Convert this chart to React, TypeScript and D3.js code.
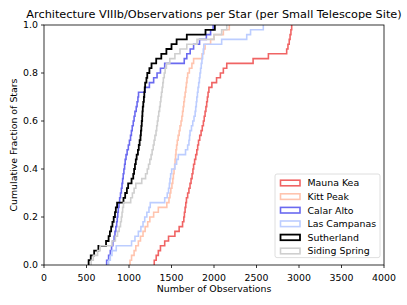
import React from 'react';
import * as d3 from 'd3';

// 관측 횟수 (별마다, 정렬됨) — 사이트별
const maunaKea = [
  1297, 1320, 1345, 1370, 1420, 1465, 1540, 1590, 1630, 1645, 1652, 1660, 1668, 1676, 1690, 1705, 1718,
  1730, 1742, 1752, 1760, 1772, 1785, 1798, 1808, 1818, 1832, 1848, 1862, 1875, 1885, 1895, 1905, 1914,
  1922, 1930, 1940, 1975, 2030, 2075, 2110, 2150, 2460, 2640, 2855, 2870, 2885, 2895, 2905, 2914,
];
const kittPeak = [
  1012, 1030, 1060, 1080, 1110, 1135, 1165, 1190, 1220, 1245, 1290, 1345, 1445, 1470, 1482, 1492, 1505,
  1515, 1522, 1530, 1537, 1542, 1548, 1553, 1560, 1568, 1578, 1590, 1600, 1612, 1622, 1630, 1638, 1645,
  1652, 1660, 1668, 1675, 1682, 1690, 1710, 1740, 1760, 1860, 1880, 1895, 1960, 2000, 2110, 2180,
];
const calarAlto = [
  737, 760, 780, 795, 810, 825, 835, 845, 855, 862, 868, 874, 882, 890, 900, 910, 918, 925, 932, 940, 948,
  955, 965, 978, 992, 1005, 1018, 1028, 1038, 1050, 1060, 1070, 1085, 1095, 1105, 1112, 1190, 1240, 1290,
  1330, 1370, 1420, 1650, 1680, 1720, 1760, 1830, 1910, 1960, 1990,
];
const lasCampanas = [
  760, 780, 800, 850, 1030, 1070, 1110, 1140, 1165, 1185, 1210, 1235, 1250, 1420, 1450, 1465, 1475, 1482,
  1490, 1502, 1540, 1560, 1580, 1665, 1690, 1705, 1712, 1718, 1735, 1750, 1765, 1778, 1785, 1792, 1798,
  1805, 1812, 1820, 1828, 1835, 1842, 1850, 1858, 1866, 1874, 1880, 2090, 2385, 2430, 2580,
];
const sutherland = [
  525, 550, 590, 640, 730, 760, 775, 790, 805, 820, 835, 845, 860, 935, 955, 975, 990, 1030, 1050, 1060,
  1070, 1080, 1090, 1105, 1115, 1125, 1135, 1140, 1145, 1150, 1155, 1158, 1162, 1168, 1175, 1180, 1185,
  1190, 1205, 1215, 1240, 1265, 1320, 1380, 1440, 1500, 1560, 1680, 1900, 2010,
];
const sidingSpring = [
  555, 580, 630, 660, 800, 840, 865, 885, 900, 910, 918, 925, 935, 1020, 1040, 1060, 1080, 1150, 1195,
  1215, 1230, 1245, 1260, 1272, 1285, 1295, 1305, 1318, 1326, 1334, 1342, 1350, 1360, 1368, 1375, 1382,
  1390, 1398, 1404, 1415, 1425, 1440, 1480, 1540, 1600, 1680, 1800, 2000, 2090, 2150,
];

const siteNames = ['Mauna Kea', 'Kitt Peak', 'Calar Alto', 'Las Campanas', 'Sutherland', 'Siding Spring'];
const siteData = [maunaKea, kittPeak, calarAlto, lasCampanas, sutherland, sidingSpring];
const siteColors = ['#f06464', '#ffc4ae', '#6a6af0', '#bccdff', '#000000', '#cfcfcf'];

const xTicks = [0, 500, 1000, 1500, 2000, 2500, 3000, 3500, 4000];
const yTicks = [0, 0.2, 0.4, 0.6, 0.8, 1.0];

const FONT = 'DejaVu Sans, sans-serif';
const SMALL = 9.4;

export default function App() {
  const width = 407;
  const height = 305;
  const left = 44;
  const right = 384;
  const top = 25;
  const bottom = 265;

  const x = d3.scaleLinear().domain([0, 4000]).range([left, right]);
  const y = d3.scaleLinear().domain([0, 1]).range([bottom, top]);

  // 누적 분포 계단선
  const line = d3
    .line<[number, number]>()
    .x((d) => x(d[0]))
    .y((d) => y(d[1]))
    .curve(d3.curveStepAfter);

  const paths = siteData.map((vals) => {
    const sorted = [...vals].sort((a, b) => a - b);
    const n = sorted.length;
    const pts: [number, number][] = [[sorted[0], 0]];
    sorted.forEach((v, i) => pts.push([v, (i + 1) / n]));
    return line(pts) as string;
  });

  // 범례 위치
  const legX = 275;
  const legY = 174;
  const legW = 105;
  const legRow = 13.6;

  return (
    <svg
      width={width}
      height={height}
      style={{ position: 'absolute', left: 0, top: 0, background: '#fff' }}
      fontFamily={FONT}>
      <defs>
        <clipPath id="plot">
          <rect x={left} y={top} width={right - left} height={bottom - top} />
        </clipPath>
      </defs>

      {/* 제목 */}
      <text x={(left + right) / 2} y={17.5} textAnchor="middle" fontSize={11.3} fill="#000">
        Architecture VIIIb/Observations per Star (per Small Telescope Site)
      </text>

      {/* 계단선 */}
      <g clipPath="url(#plot)">
        {paths.map((d, i) => (
          <path
            key={siteNames[i]}
            d={d}
            fill="none"
            stroke={siteColors[i]}
            strokeWidth={i === 4 ? 1.8 : 1.6}
          />
        ))}
      </g>

      {/* 축 테두리 */}
      <rect x={left} y={top} width={right - left} height={bottom - top} fill="none" stroke="#000" strokeWidth={0.8} />

      {/* x축 눈금 */}
      {xTicks.map((t) => (
        <g key={`x${t}`}>
          <line x1={x(t)} x2={x(t)} y1={bottom} y2={bottom + 3} stroke="#000" strokeWidth={0.8} />
          <text x={x(t)} y={280.5} textAnchor="middle" fontSize={SMALL} fill="#000">
            {t}
          </text>
        </g>
      ))}

      {/* y축 눈금 */}
      {yTicks.map((t) => (
        <g key={`y${t}`}>
          <line x1={left - 3} x2={left} y1={y(t)} y2={y(t)} stroke="#000" strokeWidth={0.8} />
          <text x={left - 6} y={y(t) + 3.4} textAnchor="end" fontSize={SMALL} fill="#000">
            {t.toFixed(1)}
          </text>
        </g>
      ))}

      {/* 축 제목 */}
      <text x={(left + right) / 2} y={292} textAnchor="middle" fontSize={SMALL} fill="#000">
        Number of Observations
      </text>
      <text
        transform={`translate(17, ${(top + bottom) / 2}) rotate(-90)`}
        textAnchor="middle"
        fontSize={SMALL}
        fill="#000">
        Cumulative Fraction of Stars
      </text>

      {/* 범례 */}
      <rect
        x={legX}
        y={legY}
        width={legW}
        height={legRow * siteNames.length + 2}
        rx={2}
        fill="#fff"
        fillOpacity={0.8}
        stroke="#d6d6d6"
        strokeWidth={0.8}
      />
      {siteNames.map((name, i) => {
        const cy = legY + 9 + i * legRow;
        return (
          <g key={name}>
            <rect
              x={legX + 5.5}
              y={cy - 2.8}
              width={19.5}
              height={5.6}
              fill="none"
              stroke={siteColors[i]}
              strokeWidth={i === 4 ? 1.8 : 1.6}
            />
            <text x={legX + 32.5} y={cy + 3.4} fontSize={SMALL} fill="#000">
              {name}
            </text>
          </g>
        );
      })}
    </svg>
  );
}
